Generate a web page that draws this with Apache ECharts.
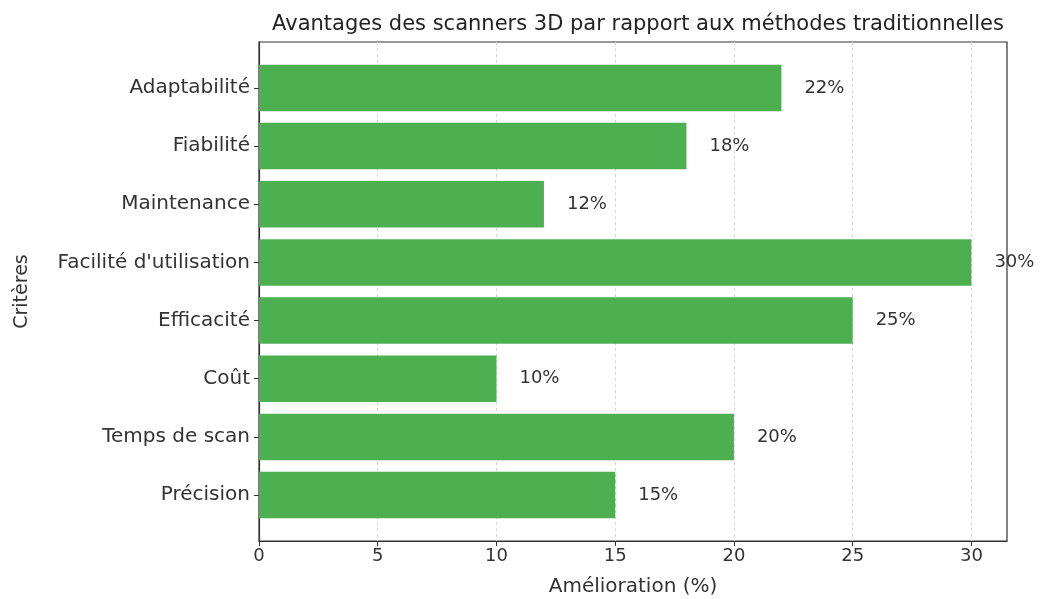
<!DOCTYPE html>
<html>
<head>
<meta charset="utf-8">
<script src="https://cdn.jsdelivr.net/npm/echarts@6/dist/echarts.min.js"></script>
<style>
  html, body { margin: 0; padding: 0; background: #fff; }
  #chart { width: 1043px; height: 599px; }
</style>
</head>
<body>
<div id="chart"></div>
<script>
// Criteria, listed from bottom to top of the chart
const criteria = ['Précision', 'Temps de scan', 'Coût', 'Efficacité',
  "Facilité d'utilisation", 'Maintenance', 'Fiabilité', 'Adaptabilité'];
// Improvement over traditional methods, in percent
const improvement = [15, 20, 10, 25, 30, 12, 18, 22];
const xTicks = [0, 5, 10, 15, 20, 25, 30];

const FONT = 'DejaVu Sans';
const TEXT = '#333333';
const X_MAX = 31.5;

// Outer frame: 42..541 px; bars sit in an inner band leaving a small margin
const frame = { left: 259, right: 1043 - 1007, top: 42, bottom: 599 - 541, outerBoundsMode: 'none', containLabel: false };
const unit = (541 - 42) / (criteria.length + 0.58);
const inner = { left: 259, right: 1043 - 1007, outerBoundsMode: 'none', containLabel: false,
  top: 42 + unit * 0.29, bottom: 599 - 541 + unit * 0.29 };

const chart = echarts.init(document.getElementById('chart'), null, { renderer: 'canvas' });
chart.setOption({
  animation: false,
  backgroundColor: '#ffffff',
  textStyle: { fontFamily: FONT },
  title: {
    text: 'Avantages des scanners 3D par rapport aux méthodes traditionnelles',
    left: 633, top: 9, textAlign: 'center',
    textStyle: { fontFamily: FONT, fontSize: 21, fontWeight: 'normal', color: '#222' }
  },
  grid: [
    Object.assign({ show: true, borderColor: '#333', borderWidth: 1.2, backgroundColor: 'transparent' }, frame),
    inner
  ],
  xAxis: [
    {
      gridIndex: 0, type: 'value', min: 0, max: X_MAX, interval: 5,
      name: 'Amélioration (%)', nameLocation: 'middle', nameGap: 36,
      nameTextStyle: { fontFamily: FONT, fontSize: 20, color: TEXT },
      axisLine: { show: true, lineStyle: { color: '#333', width: 1.2 } },
      axisTick: { show: true, length: 5, lineStyle: { color: '#333' }, customValues: xTicks },
      axisLabel: { fontFamily: FONT, fontSize: 18, color: TEXT, margin: 6, customValues: xTicks },
      splitLine: { show: true, lineStyle: { color: '#d5d5d5', type: [3, 3], width: 1 } }
    },
    { gridIndex: 1, type: 'value', min: 0, max: X_MAX, show: false, splitLine: { show: false } }
  ],
  yAxis: [
    {
      gridIndex: 0, type: 'value', min: 0, max: 1,
      name: 'Critères', nameLocation: 'middle', nameGap: 227,
      nameTextStyle: { fontFamily: FONT, fontSize: 19, color: TEXT },
      axisLine: { show: true, lineStyle: { color: '#333', width: 1.2 } },
      axisTick: { show: false }, axisLabel: { show: false }, splitLine: { show: false }
    },
    {
      gridIndex: 1, type: 'category', data: criteria,
      axisLine: { show: false },
      axisTick: { show: true, alignWithLabel: true, length: 5, lineStyle: { color: '#333' } },
      axisLabel: { fontFamily: FONT, fontSize: 20, color: TEXT, margin: 9 },
      splitLine: { show: false }
    }
  ],
  series: [{
    type: 'bar',
    xAxisIndex: 1, yAxisIndex: 1,
    data: improvement,
    barWidth: '80%',
    itemStyle: { color: '#4CAF50' },
    label: {
      show: true, position: 'right', distance: 23,
      formatter: p => p.value + '%',
      fontFamily: FONT, fontSize: 18, color: TEXT
    }
  }]
});
</script>
</body>
</html>
